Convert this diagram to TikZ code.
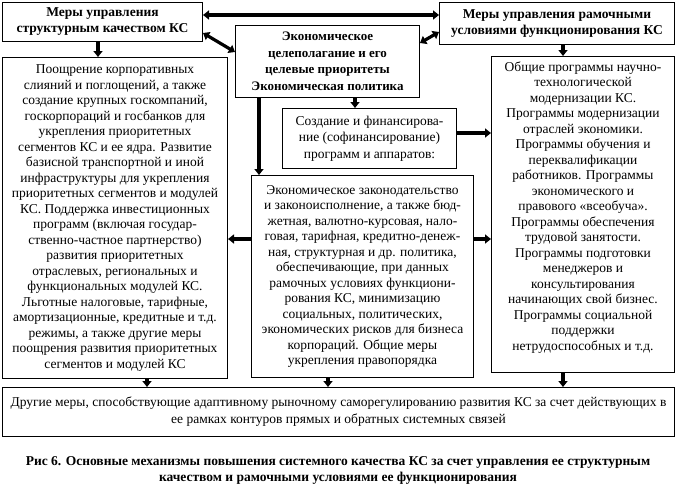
\documentclass[tikz,border=0pt]{standalone}
\usepackage{fontspec}
\setmainfont{Liberation Serif}
\usetikzlibrary{arrows.meta}
\begin{document}
\begin{tikzpicture}[x=1pt,y=-1pt,
  box/.style={draw=black,line width=1pt,fill=white,inner sep=0pt,align=center,anchor=north west},
  rtext/.style={font=\fontsize{13.5}{15.5}\selectfont},
  btext/.style={font=\fontsize{13.5}{16}\selectfont\bfseries},
  arr/.style={line width=3.2pt,-{Triangle[width=9pt,length=6pt]}},
  dbl/.style={line width=3.2pt,{Triangle[width=9pt,length=6pt]}-{Triangle[width=9pt,length=6pt]}}]
\useasboundingbox (0,0) rectangle (676,490);
\fill[white] (0,0) rectangle (676,490);

\node[box,btext,minimum width=200pt,minimum height=39pt] (A) at (2,2)
  {Меры управления\\структурным качеством КС};
\node[box,btext,minimum width=235pt,minimum height=42pt] (B) at (439,2)
  {Меры управления рамочными\\условиями функционирования КС};
\node[box,btext,font=\fontsize{13}{16.5}\selectfont\bfseries,minimum width=184pt,minimum height=72pt] (C) at (235,25)
  {Экономическое\\целеполагание и его\\целевые приоритеты\\Экономическая политика};
\node[box,rtext,minimum width=225pt,minimum height=321pt] (D) at (2,57)
  {Поощрение корпоративных\\слияний и поглощений, а также\\создание крупных госкомпаний,\\госкорпораций и госбанков для\\укрепления приоритетных\\сегментов КС и ее ядра. Развитие\\базисной транспортной и иной\\инфраструктуры для укрепления\\приоритетных сегментов и модулей\\КС. Поддержка инвестиционных\\программ (включая государ-\\ственно-частное партнерство)\\развития приоритетных\\отраслевых, региональных и\\функциональных модулей КС.\\Льготные налоговые, тарифные,\\амортизационные, кредитные и т.д.\\режимы, а также другие меры\\поощрения развития приоритетных\\сегментов и модулей КС};
\node[box,rtext,font=\fontsize{13.5}{16.5}\selectfont,minimum width=174pt,minimum height=60pt] (E) at (282,108)
  {Создание и финансирова-\\ние (софинансирование)\\программ и аппаратов:};
\node[box,rtext,minimum width=222pt,minimum height=202pt] (F) at (251,175)
  {Экономическое законодательство\\и законоисполнение, а также бюд-\\жетная, валютно-курсовая, нало-\\говая, тарифная, кредитно-денеж-\\ная, структурная и др. политика,\\обеспечивающие, при данных\\рамочных условиях функциони-\\рования КС, минимизацию\\социальных, политических,\\экономических рисков для бизнеса\\корпораций. Общие меры\\укрепления правопорядка};
\node[box,minimum width=183pt,minimum height=316pt] (G) at (491,56) {};
\node[rtext,align=center,inner sep=0pt] (Gt) at ([yshift=7pt]G.center)
  {Общие программы научно-\\технологической\\модернизации КС.\\Программы модернизации\\отраслей экономики.\\Программы обучения и\\переквалификации\\работников. Программы\\экономического и\\правового «всеобуча».\\Программы обеспечения\\трудовой занятости.\\Программы подготовки\\менеджеров и\\консультирования\\начинающих свой бизнес.\\Программы социальной\\поддержки\\нетрудоспособных и т.д.};
\node[box,rtext,font=\fontsize{13.5}{17}\selectfont,minimum width=672pt,minimum height=49pt] (H) at (2,387)
  {Другие меры, способствующие адаптивному рыночному саморегулированию развития КС за счет действующих в\\ее рамках контуров прямых и обратных системных связей};
\node[btext,align=center,inner sep=0pt] (cap) at (338,470)
  {Рис 6. Основные механизмы повышения системного качества КС за счет управления ее структурным\\качеством и рамочными условиями ее функционирования};

% connectors
\draw[dbl] (A.east |- 0,15) -- (B.west |- 0,15);
\draw[dbl] (A.east |- 0,33) -- (C.west |- 0,52);
\draw[dbl] (C.east |- 0,43) -- (B.west |- 0,32);
\draw[arr] (A.south -| 98,0) -- (D.north -| 98,0);
\draw[arr] (B.south -| 563,0) -- (G.north -| 563,0);
\draw[arr] (C.south -| 355,0) -- (E.north -| 355,0);
\draw[arr] (C.south -| 259,0) -- (F.north -| 259,0);
\draw[arr] (E.east |- 0,133) -- (G.west |- 0,133);
\draw[arr] (F.west |- 0,239) -- (D.east |- 0,239);
\draw[arr] (F.east |- 0,239) -- (G.west |- 0,239);
\draw[arr] (D.south -| 147,0) -- (H.north -| 147,0);
\draw[arr] (F.south -| 328,0) -- (H.north -| 328,0);
\draw[arr] (G.south -| 563,0) -- (H.north -| 563,0);
\end{tikzpicture}
\end{document}
